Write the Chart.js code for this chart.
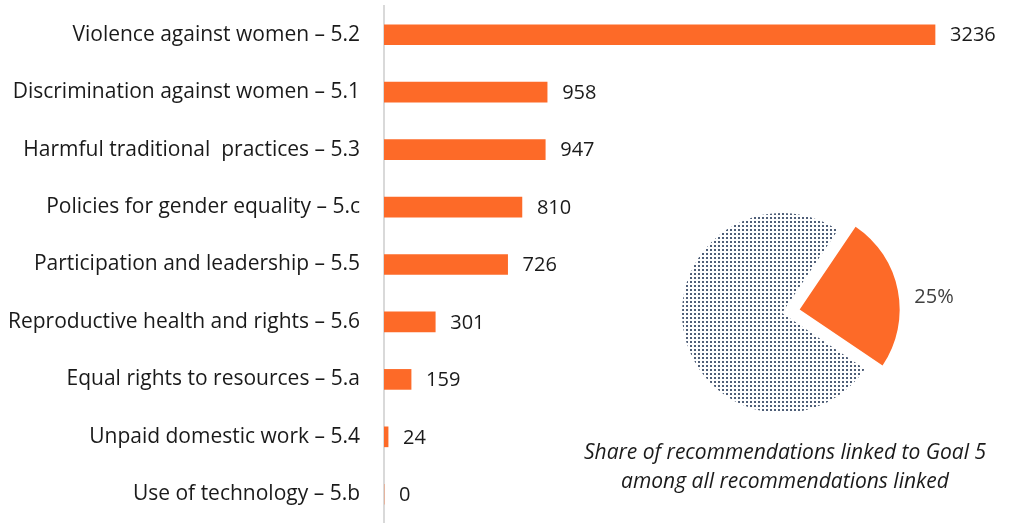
<!DOCTYPE html>
<html>
<head>
<meta charset="utf-8">
<script src="https://cdn.jsdelivr.net/npm/chart.js@4"></script>
<style>
  body { margin: 0; background: #fff; }
  #wrap { position: relative; width: 1011px; height: 523px; overflow: hidden; }
  #bars { position: absolute; left: 0; top: 0; }
  #share { position: absolute; left: 662px; top: 193px; }
  #caption { position: absolute; left: 535px; top: 437px; width: 500px; text-align: center;
             font: italic 21px "Open Sans"; color: #1a1a1a; line-height: 29px; }
</style>
</head>
<body>
<div id="wrap">
  <canvas id="bars" width="1011" height="523"></canvas>
  <canvas id="share" width="320" height="240"></canvas>
  <div id="caption">Share of recommendations linked to Goal 5<br>among all recommendations linked</div>
</div>
<script>
var categories = [
  "Violence against women \u2013 5.2",
  "Discrimination against women \u2013 5.1",
  "Harmful traditional  practices \u2013 5.3",
  "Policies for gender equality \u2013 5.c",
  "Participation and leadership \u2013 5.5",
  "Reproductive health and rights \u2013 5.6",
  "Equal rights to resources \u2013 5.a",
  "Unpaid domestic work \u2013 5.4",
  "Use of technology \u2013 5.b"
];
var counts = [3236, 958, 947, 810, 726, 301, 159, 24, 0];

var shareValues = [25, 75];
var shareLabels = ["25%", ""];

var orange = "#fd6a28";

// numbers at the end of each bar
var valueLabels = {
  id: "valueLabels",
  afterDatasetsDraw: function(chart) {
    var ctx = chart.ctx;
    var meta = chart.getDatasetMeta(0);
    ctx.save();
    ctx.font = '20px "Open Sans"';
    ctx.fillStyle = "#1a1a1a";
    ctx.textBaseline = "middle";
    meta.data.forEach(function(bar, i) {
      ctx.fillText(counts[i], bar.x + 15, bar.y + 1);
    });
    ctx.restore();
  }
};

new Chart(document.getElementById("bars"), {
  type: "bar",
  data: {
    labels: categories,
    datasets: [{ data: counts, backgroundColor: orange, barThickness: 20 }]
  },
  options: {
    indexAxis: "y",
    responsive: false,
    animation: false,
    layout: { padding: { top: 6, right: 14, bottom: 0, left: 0 } },
    plugins: { legend: { display: false }, tooltip: { enabled: false } },
    scales: {
      x: { display: false, min: 0, max: 3600 },
      y: {
        grid: { display: false, drawTicks: false },
        border: { display: true, color: "#d9d9d9", width: 2 },
        ticks: { color: "#1a1a1a", padding: 24, font: { family: "Open Sans", size: 21 } },
        afterFit: function(scale) {
          scale.width = 384;
          scale.paddingTop = 0;
          scale.paddingBottom = 0;
        }
      }
    }
  },
  plugins: [valueLabels]
});

// dotted fill for the rest of the pie
function dotPattern(ctx) {
  var tile = document.createElement("canvas");
  tile.width = 4; tile.height = 4;
  var c = tile.getContext("2d");
  c.fillStyle = "#4f5f78";
  c.fillRect(0, 0, 2, 2);
  return ctx.createPattern(tile, "repeat");
}

var pieLabel = {
  id: "pieLabel",
  afterDatasetsDraw: function(chart) {
    var arc = chart.getDatasetMeta(0).data[0];
    var ctx = chart.ctx;
    ctx.save();
    ctx.font = '20px "Open Sans"';
    ctx.fillStyle = "#404040";
    ctx.textAlign = "center";
    ctx.textBaseline = "middle";
    ctx.fillText(shareLabels[0], arc.x + arc.outerRadius + 52, arc.y - 16);
    ctx.restore();
  }
};

var shareCanvas = document.getElementById("share");
new Chart(shareCanvas, {
  type: "pie",
  data: {
    labels: ["Goal 5", "Other"],
    datasets: [{
      data: shareValues,
      backgroundColor: [orange, dotPattern(shareCanvas.getContext("2d"))],
      borderWidth: 0,
      offset: [72, 0],   // arc draws offset/4 for a quarter slice -> ~18px
      radius: 100
    }]
  },
  options: {
    responsive: false,
    animation: false,
    rotation: 34,
    layout: { padding: { right: 80 } },
    plugins: { legend: { display: false }, tooltip: { enabled: false } }
  },
  plugins: [pieLabel]
});
</script>
</body>
</html>
